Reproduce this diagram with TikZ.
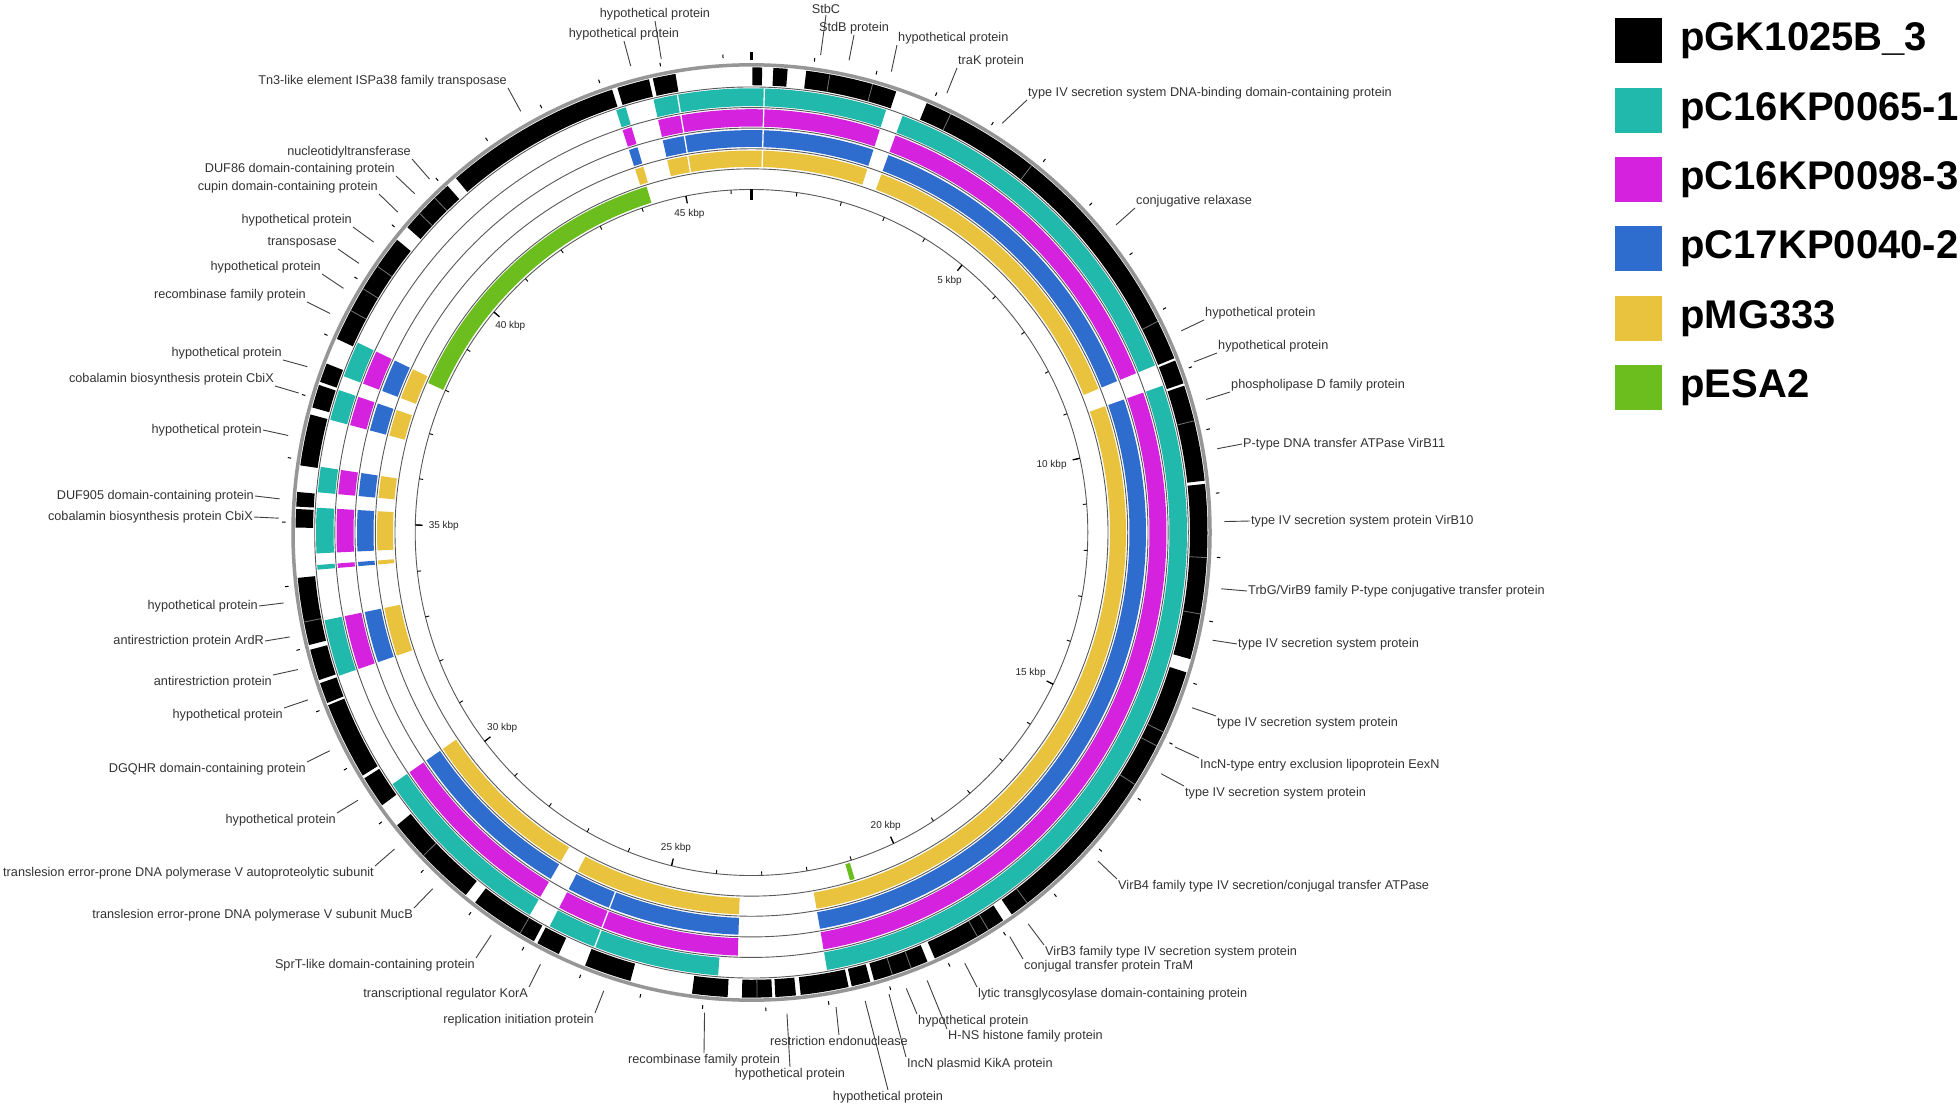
\documentclass[tikz,border=0pt]{standalone}
\usepackage{fontspec}
\setmainfont{Liberation Sans}
\usetikzlibrary{positioning}

\definecolor{tealband}{RGB}{32,185,172}
\definecolor{magband}{RGB}{212,34,222}
\definecolor{blueband}{RGB}{46,108,206}
\definecolor{yelband}{RGB}{233,194,62}
\definecolor{greenband}{RGB}{108,190,30}
\definecolor{ringgray}{RGB}{150,150,150}

% ring segment: colour, inner radius, outer radius, from, to (degrees clockwise from top)
\newcommand{\ringseg}[5]{%
  \fill[fill=#1] ({90-(#4)}:#3) arc[start angle={90-(#4)}, end angle={90-(#5)}, radius=#3]
    -- ({90-(#5)}:#2) arc[start angle={90-(#5)}, end angle={90-(#4)}, radius=#2] -- cycle;}

\begin{document}
\begin{tikzpicture}[x=1pt, y=-1pt,
  lbl/.style={font=\fontsize{12.7}{14}\selectfont, text=black!80, inner sep=1pt},
  leader/.style={draw=black!75, line width=0.9pt},
  kbp/.style={font=\fontsize{10}{12}\selectfont, text=black!85, inner sep=1pt},
  ringline/.style={draw=black!65, line width=0.9pt},
  genediv/.style={draw=black!55, line width=0.8pt},
  keybox/.style={minimum width=47pt, minimum height=45pt, inner sep=0pt},
  keytext/.style={font=\fontsize{40}{44}\selectfont\bfseries, inner sep=0pt, anchor=west}]

  \path[use as bounding box, fill=white] (0,0) rectangle (1960,1107);

  % Plasmid rings, centre of the map
  \begin{scope}[shift={(751.5,532.5)}, y=1pt, yscale=1.02]
    % pGK1025B_3 genes (outer black ring)
    \foreach \a/\b in {0.1/1.35, 2.75/4.55, 6.9/18.5, 22.6/68.0, 68.3/71.3, 71.6/83.6,
        84.0/105.8, 107.5/145.2, 146.5/156.3, 157.3/164.4, 164.9/167.3, 167.7/173.8,
        174.4/177.0, 177.4/181.2, 183.0/187.5, 195.4/201.4, 205.0/208.0, 208.5/217.3,
        218.8/231.0, 234.1/238.1, 238.5/248.2, 248.5/251.1, 251.5/255.4, 256.0/264.4,
        270.6/272.9, 273.2/275.0, 278.3/284.7, 285.6/288.5, 288.9/291.3, 294.6/309.0,
        311.0/318.2, 319.6/342.2, 342.9/347.0, 347.5/350.4}
      {\ringseg{black}{438.5}{456}{\a}{\b}}
    \foreach \a in {9.9, 15.4, 25.9, 37.9, 63.0, 76.1, 93.1, 100.1, 115.4, 117.3, 122.8,
        142.8, 148.7, 150.3, 159.5, 162.0, 179.3, 210.5, 226.0, 258.9, 298.5, 301.6,
        304.9, 313.3, 316.0}
      {\draw[genediv] ({90-\a}:438.5) -- ({90-\a}:456);}

    % four similar plasmids
    \foreach \col/\ri/\ro/\e in {tealband/418/435.5/184.4, magband/398/415/181.9,
        blueband/378/394.5/181.9, yelband/358.5/374.5/181.9}{
      \foreach \a/\b in {341.9/343.2, 347.0/378.0, 20.3/67.9, 70.7/170.0, 210.6/235.5,
          251.2/258.6, 265.2/265.8, 267.3/273.2, 275.2/278.5, 284.7/288.7, 290.6/295.3}
        {\ringseg{\col}{\ri}{\ro}{\a}{\b}}
      \ringseg{\col}{\ri}{\ro}{\e}{207.6}
    }
    \foreach \a in {350.2, 361.7}
      {\draw[white, line width=1.3pt] ({90-\a}:358.5) -- ({90-\a}:435.5);}
    \draw[white, line width=1.3pt] ({90-201.1}:378) -- ({90-201.1}:435.5);

    % pESA2
    \ringseg{greenband}{338.5}{355}{294.4}{342.8}
    \ringseg{greenband}{338.5}{355}{163.1}{163.9}

    % ring outlines
    \foreach \r in {436.8, 416.6, 396.5, 376.2, 356.5, 336.3}
      {\draw[ringline] (0,0) circle[radius=\r];}
    \draw[draw=ringgray, line width=3.5pt] (0,0) circle[radius=458.5];

    % ticks, 1 kbp apart
    \foreach \k in {1,...,46} {
      \draw[line width=1pt] ({90-7.75*\k}:466) -- ({90-7.75*\k}:469.5);
      \draw[line width=0.9pt] ({90-7.75*\k}:336.3) -- ({90-7.75*\k}:332.5);
    }
    \draw[line width=2.5pt] (90:463) -- (90:471.5);
    \draw[line width=2.5pt] (90:336.3) -- (90:326);
    \foreach \k in {5,10,...,45} {
      \draw[line width=1.3pt] ({90-7.75*\k}:336.3) -- ({90-7.75*\k}:329);
      \pgfmathsetmacro\tkang{mod(450-7.75*\k,360)}
      \node[kbp, anchor=\tkang] (kbp\k) at (\tkang:324) {\k\ kbp};
    }
  \end{scope}

  % gene labels
  \foreach \ang/\anc/\px/\py/\txt [count=\i] in {
      349.0/south/655/21/hypothetical protein,
      345.2/south/624/41/hypothetical protein,
      8.4/south/826/15/StbC,
      11.9/south/854/35/StdB protein,
      17.2/south west/897/45/hypothetical protein,
      24.4/south west/957/68/traK protein,
      32.0/south west/1027/100/type IV secretion system DNA-binding domain-containing protein,
      50.4/south west/1135/208/conjugative relaxase,
      65.3/south west/1204/320/hypothetical protein,
      69.3/south west/1217/353/hypothetical protein,
      74.0/south west/1230/392/phospholipase D family protein,
      80.0/west/1242/444/P-type DNA transfer ATPase VirB11,
      88.7/west/1250/521/type IV secretion system protein VirB10,
      96.7/west/1247/591/{TrbG/VirB9 family P-type conjugative transfer protein},
      102.9/west/1237/644/type IV secretion system protein,
      111.3/north west/1216/716/type IV secretion system protein,
      116.4/north west/1199/758/IncN-type entry exclusion lipoprotein EexN,
      120.0/north west/1184/786/type IV secretion system protein,
      132.9/north west/1117/879/{VirB4 family type IV secretion/conjugal transfer ATPase},
      144.2/north west/1044/945/VirB3 family type IV secretion system protein,
      146.9/north west/1023/959/conjugal transfer protein TraM,
      153.2/north west/977/987/lytic transglycosylase domain-containing protein,
      160.9/north west/917/1014/hypothetical protein,
      158.2/north west/947/1029/H-NS histone family protein,
      163.1/north west/906/1057/IncN plasmid KikA protein,
      166.1/north/888/1090/hypothetical protein,
      169.7/north/839/1035/restriction endonuclease,
      175.7/north/790/1067/hypothetical protein,
      185.7/north/704/1053/recombinase family protein,
      198.2/north east/595/1013/replication initiation protein,
      206.5/north east/529/987/transcriptional regulator KorA,
      213.4/north east/476/958/SprT-like domain-containing protein,
      222.4/north east/414/908/translesion error-prone DNA polymerase V subunit MucB,
      229.0/north east/375/866/translesion error-prone DNA polymerase V autoproteolytic subunit,
      236.3/north east/337/813/hypothetical protein,
      243.1/north east/307/762/DGQHR domain-containing protein,
      249.7/north east/284/708/hypothetical protein,
      253.5/north east/273/675/antirestriction protein,
      257.5/east/265/641/antirestriction protein ArdR,
      261.6/east/259/606/hypothetical protein,
      271.7/east/254/517/cobalamin biosynthesis protein CbiX,
      274.0/east/255/496/DUF905 domain-containing protein,
      281.6/east/263/430/hypothetical protein,
      286.8/south east/275/386/cobalamin biosynthesis protein CbiX,
      290.1/south east/283/360/hypothetical protein,
      297.0/south east/307/302/recombinase family protein,
      300.4/south east/322/274/hypothetical protein,
      303.9/south east/338/249/transposase,
      307.0/south east/353/227/hypothetical protein,
      311.6/south east/379/194/cupin domain-containing protein,
      314.6/south east/396/176/DUF86 domain-containing protein,
      317.1/south east/412/159/nucleotidyltransferase,
      330.8/south east/508/88/Tn3-like element ISPa38 family transposase}{
    \coordinate (gene\i) at ({751.5+473*sin(\ang)}, {532.5-482.5*cos(\ang)});
    \node[lbl, anchor=\anc] (lab\i) at (\px,\py) {\txt};
    \draw[leader] (gene\i) -- (lab\i.\anc);
  }

  % legend
  \node[keybox, fill=black] (key1) at (1638.5,40.8) {};
  \node[keybox, fill=tealband, below=24pt of key1] (key2) {};
  \node[keybox, fill=magband, below=24pt of key2] (key3) {};
  \node[keybox, fill=blueband, below=24pt of key3] (key4) {};
  \node[keybox, fill=yelband, below=24pt of key4] (key5) {};
  \node[keybox, fill=greenband, below=24pt of key5] (key6) {};
  \node[keytext, right=18pt of key1] (name1) {pGK1025B\_3};
  \node[keytext, right=18pt of key2] (name2) {pC16KP0065-1};
  \node[keytext, right=18pt of key3] (name3) {pC16KP0098-3};
  \node[keytext, right=18pt of key4] (name4) {pC17KP0040-2};
  \node[keytext, right=18pt of key5] (name5) {pMG333};
  \node[keytext, right=18pt of key6] (name6) {pESA2};
\end{tikzpicture}
\end{document}
